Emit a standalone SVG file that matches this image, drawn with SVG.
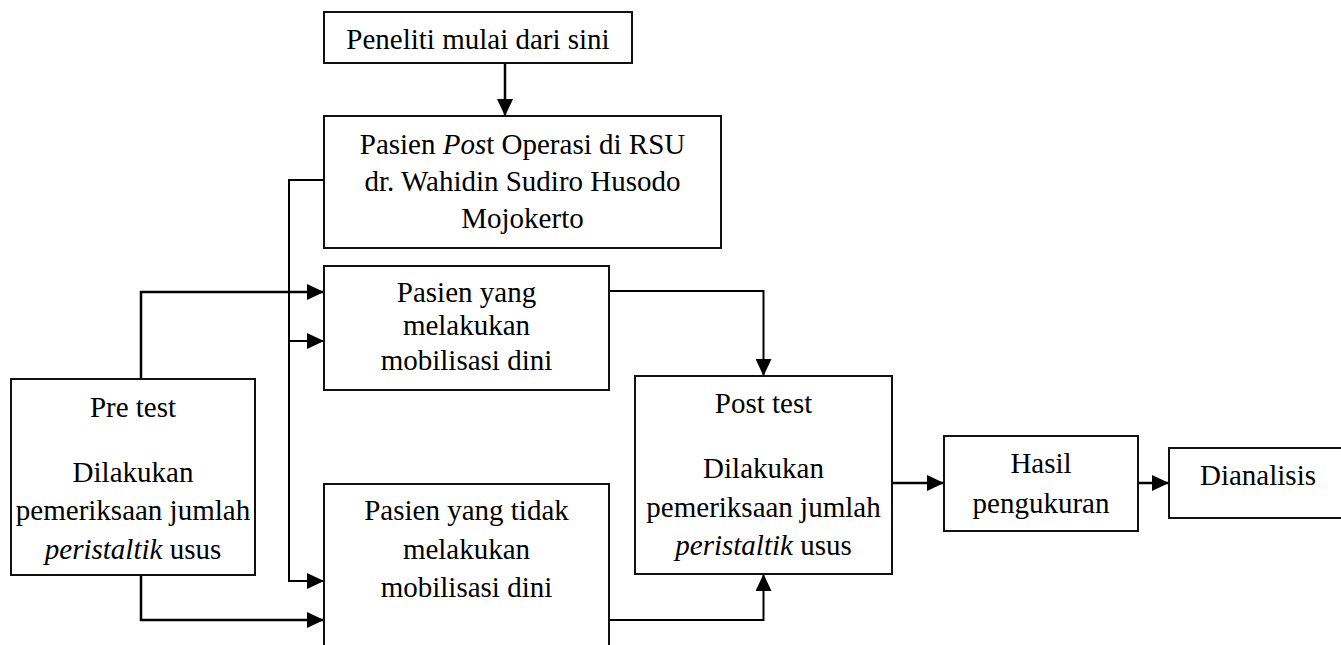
<svg xmlns="http://www.w3.org/2000/svg" width="1341" height="645" viewBox="0 0 1341 645">
<style>
  .box { fill: #fff; stroke: #111; stroke-width: 2; }
  .t { font-family: 'Liberation Serif', 'Times New Roman', 'DejaVu Serif', serif; font-size: 29px; fill: #000; text-anchor: middle; }
  .i { font-style: italic; }
  .c { fill: none; stroke: #000; stroke-width: 2.5; }
  .c1 { fill: none; stroke: #000; stroke-width: 2; }
</style>
<defs>
  <marker id="ah" markerUnits="userSpaceOnUse" markerWidth="17" markerHeight="16" refX="17" refY="8" orient="auto">
    <path d="M0,0 L17,8 L0,16 Z" fill="#000"/>
  </marker>
</defs>
<rect width="1341" height="645" fill="#fff"/>

<g id="connectors">
  <path class="c" d="M505,63 V116" marker-end="url(#ah)"/>
  <path class="c1" d="M324,180 H289 V581 H324" marker-end="url(#ah)"/>
  <path class="c1" d="M289,341 H324" marker-end="url(#ah)"/>
  <path class="c" d="M141,379 V292 H324" marker-end="url(#ah)"/>
  <path class="c" d="M141,575 V620 H324" marker-end="url(#ah)"/>
  <path class="c1" d="M609,291 H763.5 V376" marker-end="url(#ah)"/>
  <path class="c1" d="M609,620 H763.5 V574" marker-end="url(#ah)"/>
  <path class="c" d="M892,483 H944" marker-end="url(#ah)"/>
  <path class="c" d="M1138,483 H1169" marker-end="url(#ah)"/>
</g>

<g id="start">
  <rect class="box" x="324" y="12" width="308" height="51"/>
  <text class="t" x="478" y="49">Peneliti mulai dari sini</text>
</g>

<g id="pasien-post-operasi">
  <rect class="box" x="324" y="116" width="397" height="132"/>
  <text class="t" x="522.5" y="154">Pasien <tspan class="i">Pos</tspan>t Operasi di RSU</text>
  <text class="t" x="522.5" y="191">dr. Wahidin Sudiro Husodo</text>
  <text class="t" x="522.5" y="228">Mojokerto</text>
</g>

<g id="pasien-mobilisasi">
  <rect class="box" x="324" y="266" width="285" height="124"/>
  <text class="t" x="466.5" y="302">Pasien yang</text>
  <text class="t" x="466.5" y="335">melakukan</text>
  <text class="t" x="466.5" y="370">mobilisasi dini</text>
</g>

<g id="pasien-tidak-mobilisasi">
  <rect class="box" x="324" y="484" width="285" height="180"/>
  <text class="t" x="466.5" y="520">Pasien yang tidak</text>
  <text class="t" x="466.5" y="559">melakukan</text>
  <text class="t" x="466.5" y="597">mobilisasi dini</text>
</g>

<g id="pre-test">
  <rect class="box" x="11" y="379" width="244" height="196"/>
  <text class="t" x="133" y="417">Pre test</text>
  <text class="t" x="133" y="482">Dilakukan</text>
  <text class="t" x="133" y="520">pemeriksaan jumlah</text>
  <text class="t" x="133" y="559"><tspan class="i">peristaltik</tspan> usus</text>
</g>

<g id="post-test">
  <rect class="box" x="635" y="376" width="257" height="198"/>
  <text class="t" x="763.5" y="413">Post test</text>
  <text class="t" x="763.5" y="478">Dilakukan</text>
  <text class="t" x="763.5" y="517">pemeriksaan jumlah</text>
  <text class="t" x="763.5" y="555"><tspan class="i">peristaltik</tspan> usus</text>
</g>

<g id="hasil">
  <rect class="box" x="944" y="436" width="194" height="95"/>
  <text class="t" x="1041" y="473">Hasil</text>
  <text class="t" x="1041" y="513">pengukuran</text>
</g>

<g id="dianalisis">
  <rect class="box" x="1169" y="448" width="180" height="70"/>
  <text class="t" x="1258" y="485">Dianalisis</text>
</g>
</svg>
